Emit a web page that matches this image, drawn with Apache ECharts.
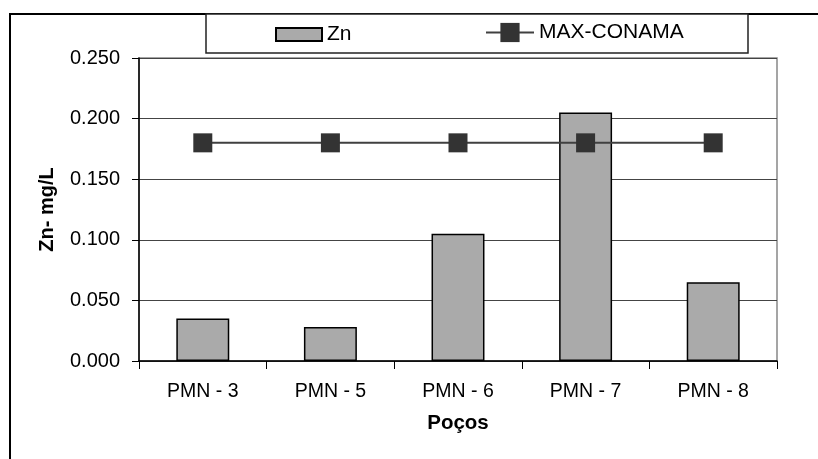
<!DOCTYPE html>
<html>
<head>
<meta charset="utf-8">
<script src="https://cdn.jsdelivr.net/npm/echarts@6/dist/echarts.min.js"></script>
<style>
  html, body { margin: 0; padding: 0; background: #fff; }
  #chart { width: 818px; height: 459px; }
</style>
</head>
<body>
<div id="chart"></div>
<script>
// Zinc concentration per well, with the CONAMA maximum as reference line
const wells = ['PMN - 3', 'PMN - 5', 'PMN - 6', 'PMN - 7', 'PMN - 8'];
const znValues = [0.035, 0.028, 0.105, 0.205, 0.065];
const conamaMax = [0.18, 0.18, 0.18, 0.18, 0.18];
const yTicks = { min: 0, max: 0.25, interval: 0.05 };

const FONT = '"Liberation Sans", Arial, sans-serif';

const chart = echarts.init(document.getElementById('chart'), null, { renderer: 'canvas' });

chart.setOption({
  animation: false,
  backgroundColor: '#ffffff',
  textStyle: { fontFamily: FONT, color: '#000' },
  graphic: [
    {
      type: 'rect',
      shape: { x: 10, y: 14, width: 830, height: 470 },
      style: { fill: 'none', stroke: '#000', lineWidth: 2 },
      silent: true, z: 0
    },
    {
      type: 'rect',
      shape: { x: 206, y: 14, width: 542, height: 39 },
      style: { fill: '#fff', stroke: '#222', lineWidth: 1.5 },
      silent: true, z: 1
    }
  ],
  legend: [
    {
      data: [{ name: 'Zn', icon: 'rect' }],
      left: 275, top: 24, padding: 0,
      itemWidth: 46, itemHeight: 13, itemGap: 6,
      textStyle: { fontFamily: FONT, fontSize: 21, color: '#000' },
      z: 5
    },
    {
      data: ['MAX-CONAMA'],
      left: 485, top: 22, padding: 0,
      itemWidth: 48, itemHeight: 24,
      textStyle: { fontFamily: FONT, fontSize: 21, color: '#000' },
      z: 5
    }
  ],
  grid: { left: 139, top: 58, right: 41, bottom: 98, show: true, borderColor: '#888', borderWidth: 1.5, backgroundColor: '#fff' },
  xAxis: {
    type: 'category',
    data: wells,
    name: 'Poços',
    nameLocation: 'middle',
    nameGap: 52,
    nameTextStyle: { fontFamily: FONT, fontSize: 20.5, fontWeight: 'bold', color: '#000' },
    axisLine: { lineStyle: { color: '#000', width: 1.5 } },
    axisTick: { show: true, length: 8, lineStyle: { color: '#000' } },
    axisLabel: { fontFamily: FONT, fontSize: 19.5, color: '#000', margin: 21 }
  },
  yAxis: {
    type: 'value',
    min: yTicks.min, max: yTicks.max, interval: yTicks.interval,
    name: 'Zn- mg/L',
    nameLocation: 'middle',
    nameGap: 82,
    nameRotate: 90,
    nameTextStyle: { fontFamily: FONT, fontSize: 20, fontWeight: 'bold', color: '#000' },
    axisLine: { show: true, lineStyle: { color: '#000', width: 1.5 } },
    axisTick: { show: true, length: 7, lineStyle: { color: '#000' } },
    axisLabel: {
      fontFamily: FONT, fontSize: 20, color: '#000', margin: 19,
      formatter: v => v.toFixed(3)
    },
    splitLine: { show: true, lineStyle: { color: '#444', width: 1 } }
  },
  series: [
    {
      name: 'Zn',
      type: 'bar',
      data: znValues,
      barWidth: '41.5%',
      itemStyle: { color: '#aaaaaa', borderColor: '#000', borderWidth: 1.5 }
    },
    {
      name: 'MAX-CONAMA',
      type: 'line',
      data: conamaMax,
      symbol: 'rect',
      symbolSize: 19,
      lineStyle: { color: '#404040', width: 2 },
      itemStyle: { color: '#333333' },
      z: 3
    }
  ]
});
</script>
</body>
</html>
